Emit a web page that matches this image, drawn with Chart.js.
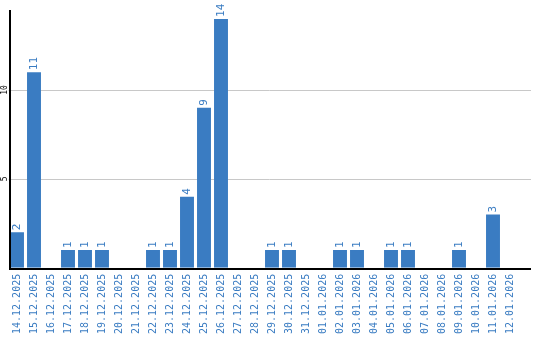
<!DOCTYPE html>
<html>
<head>
<meta charset="utf-8">
<script src="https://cdn.jsdelivr.net/npm/chart.js@4/dist/chart.umd.min.js"></script>
<style>
  html, body { margin: 0; padding: 0; background: #fff; }
  #wrap { width: 540px; height: 340px; }
</style>
</head>
<body>
<div id="wrap"><canvas id="dayChart" width="540" height="340"></canvas></div>
<script>
  // 날짜 라벨 / 값
  const dayLabels = [
    "14.12.2025", "15.12.2025", "16.12.2025", "17.12.2025", "18.12.2025",
    "19.12.2025", "20.12.2025", "21.12.2025", "22.12.2025", "23.12.2025",
    "24.12.2025", "25.12.2025", "26.12.2025", "27.12.2025", "28.12.2025",
    "29.12.2025", "30.12.2025", "31.12.2025", "01.01.2026", "02.01.2026",
    "03.01.2026", "04.01.2026", "05.01.2026", "06.01.2026", "07.01.2026",
    "08.01.2026", "09.01.2026", "10.01.2026", "11.01.2026", "12.01.2026"
  ];
  const dayCounts = [2, 11, 0, 1, 1, 1, 0, 0, 1, 1, 4, 9, 14, 0, 0, 1, 1, 0, 0, 1, 1, 0, 1, 1, 0, 0, 1, 0, 3, 0];
  const yTickValues = [5, 10];

  const BLUE = "#3a7cc2";
  const MONO = "'DejaVu Sans Mono', monospace";

  // 그리드 + 축선 + 세로 y 라벨
  const framePlugin = {
    id: "frame",
    beforeDatasetsDraw(chart) {
      const { ctx, chartArea, scales } = chart;
      const right = chart.width - 9;
      ctx.save();
      ctx.strokeStyle = "#c8c8c8";
      ctx.lineWidth = 1;
      yTickValues.forEach((v) => {
        const y = Math.round(scales.y.getPixelForValue(v)) + 0.5;
        ctx.beginPath();
        ctx.moveTo(chartArea.left, y);
        ctx.lineTo(right, y);
        ctx.stroke();
      });
      ctx.fillStyle = "#000";
      ctx.font = "8px " + MONO;
      ctx.textAlign = "center";
      ctx.textBaseline = "middle";
      yTickValues.forEach((v) => {
        const y = scales.y.getPixelForValue(v);
        ctx.save();
        ctx.translate(5, y);
        ctx.rotate(-Math.PI / 2);
        ctx.fillText(String(v), 0, 0);
        ctx.restore();
      });
      ctx.restore();
    },
    afterDatasetsDraw(chart) {
      const { ctx, chartArea, scales } = chart;
      const right = chart.width - 9;
      const y0 = Math.round(scales.y.getPixelForValue(0));
      ctx.save();
      ctx.strokeStyle = "#000";
      ctx.lineWidth = 2;
      ctx.beginPath();
      ctx.moveTo(10, chartArea.top);
      ctx.lineTo(10, y0 + 1);
      ctx.lineTo(right, y0 + 1);
      ctx.stroke();

      // 값 라벨 (세로)
      const meta = chart.getDatasetMeta(0);
      ctx.fillStyle = BLUE;
      ctx.font = "11px " + MONO;
      ctx.textAlign = "left";
      ctx.textBaseline = "middle";
      meta.data.forEach((bar, i) => {
        const v = dayCounts[i];
        if (!v) return;
        ctx.save();
        ctx.translate(bar.x, bar.y - 2);
        ctx.rotate(-Math.PI / 2);
        ctx.fillText(String(v), 0, 0);
        ctx.restore();
      });
      ctx.restore();
    }
  };

  new Chart(document.getElementById("dayChart").getContext("2d"), {
    type: "bar",
    data: {
      labels: dayLabels,
      datasets: [
        {
          data: dayCounts,
          backgroundColor: BLUE,
          borderWidth: 0,
          barPercentage: 0.82,
          categoryPercentage: 1.0
        }
      ]
    },
    options: {
      responsive: false,
      animation: false,
      layout: { padding: { left: 8.5, right: 21.5, top: 10, bottom: 0 } },
      plugins: {
        legend: { display: false },
        tooltip: { enabled: false }
      },
      scales: {
        x: {
          grid: { display: false, drawTicks: false },
          border: { display: false },
          ticks: {
            color: BLUE,
            font: { family: MONO, size: 10 },
            minRotation: 90,
            maxRotation: 90,
            autoSkip: false,
            padding: 6
          }
        },
        y: {
          display: false,
          min: 0,
          max: 14.5
        }
      }
    },
    plugins: [framePlugin]
  });
</script>
</body>
</html>
